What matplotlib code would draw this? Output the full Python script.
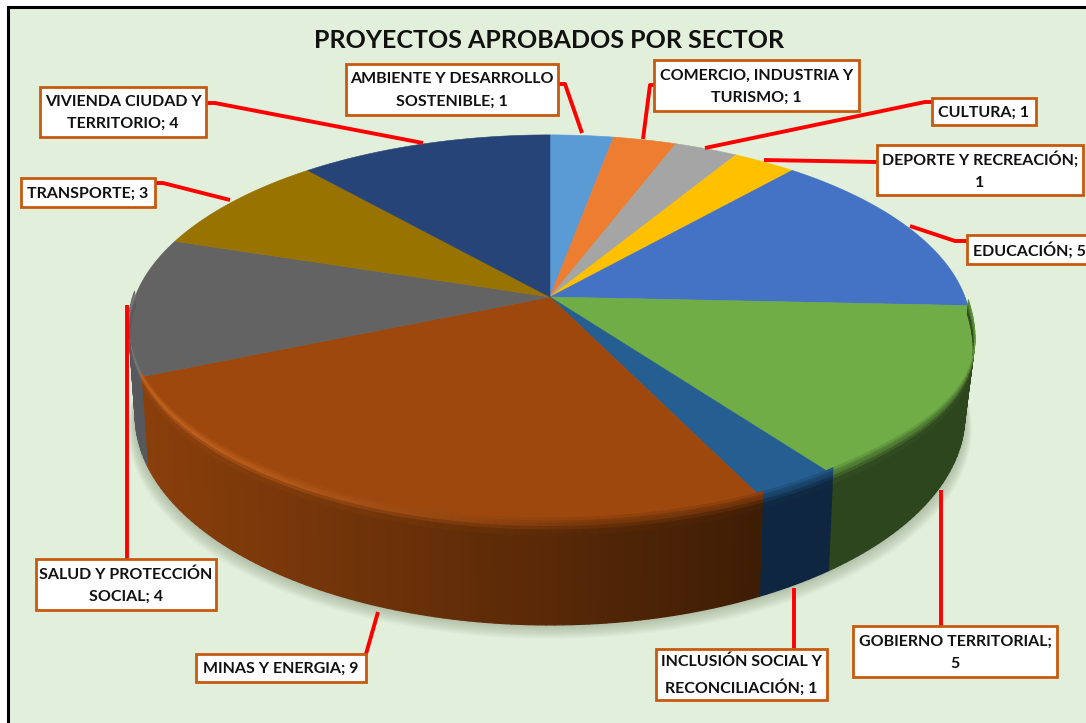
import numpy as np
import matplotlib
matplotlib.use("Agg")
import matplotlib.pyplot as plt
from matplotlib.collections import PolyCollection
from matplotlib.colors import to_rgb
from matplotlib.patches import Rectangle

title = "PROYECTOS APROBADOS POR SECTOR"
values = [1, 1, 1, 1, 5, 5, 1, 9, 4, 3, 4]
label_formats = [
    "AMBIENTE Y DESARROLLO\nSOSTENIBLE; {}",
    "COMERCIO, INDUSTRIA Y\nTURISMO; {}",
    "CULTURA; {}",
    "DEPORTE Y RECREACIÓN;\n{}",
    "EDUCACIÓN; {}",
    "GOBIERNO TERRITORIAL;\n{}",
    "INCLUSIÓN SOCIAL Y\nRECONCILIACIÓN; {}",
    "MINAS Y ENERGIA; {}",
    "SALUD Y PROTECCIÓN\nSOCIAL; {}",
    "TRANSPORTE; {}",
    "VIVIENDA CIUDAD Y\nTERRITORIO; {}",
]
top_colors = ["#5B9BD5", "#ED7D31", "#A5A5A5", "#FFC000", "#4472C4", "#70AD47",
              "#255E91", "#9E480E", "#636363", "#997300", "#264478"]
side_left = ["#2F5F8A", "#8A4A1C", "#606060", "#957000", "#27457A", "#2D461D",
             "#0E263F", "#8A3F0B", "#56585C", "#5C4500", "#16294A"]
side_right = ["#2F5F8A", "#8A4A1C", "#606060", "#957000", "#27457A", "#2D461D",
              "#0E263F", "#3E1D05", "#4E5055", "#5C4500", "#16294A"]
highlights = [None] * 7 + ["#C2621F", "#7A7A7A", None, None]

# layout: pixel boxes of the callouts and their leader lines
boxes = [(346, 64, 558, 115), (654, 60, 859, 111), (932, 98, 1036, 125),
         (877, 145, 1083, 195), (967, 235, 1092, 264), (853, 626, 1057, 677),
         (656, 649, 827, 700), (196, 654, 366, 682), (36, 559, 216, 610),
         (21, 178, 155, 207), (40, 87, 206, 137)]
leaders = [[(558, 84), (565, 84), (582, 133)], [(654, 85), (650, 85), (643, 139)],
           [(932, 102), (925, 102), (705, 148)], [(877, 162), (764, 160)],
           [(967, 241), (955, 241), (910, 226)], [(941, 626), (941, 490)],
           [(794, 649), (794, 588)], [(366, 654), (378, 612)],
           [(127, 559), (127, 305)], [(155, 183), (163, 183), (230, 200)],
           [(206, 103), (215, 103), (423, 143)]]

FONT = "Lato"
CX, CY, RX, RY, K, DEPTH, XS = 550.0, 297.0, 415.0, 189.5, 0.169, 83.0, 0.015
B0, B1, BULGE = np.radians(90), np.radians(144), 0.02


def project(theta, t=0.0):
    """Perspective pie: theta is clockwise from the top, t the depth fraction."""
    theta = np.asarray(theta, dtype=float)
    X, Y = np.sin(theta), np.cos(theta)
    w = 1 + K * Y
    inside = (theta > B0) & (theta < B1)
    r = 1 + BULGE * (1 - t) * inside * np.sin(np.pi * (theta - B0) / (B1 - B0)) ** 2
    return CX + r * RX * X / w * (1 - XS * t), CY - r * RY * Y / w + DEPTH * t / w


def mix(a, b, f):
    a, b = np.array(to_rgb(a)), np.array(to_rgb(b))
    return tuple(a + (b - a) * f)


fig = plt.figure(figsize=(10.86, 7.23), dpi=100, facecolor="white")
ax = fig.add_axes([0, 0, 1, 1])
ax.set_xlim(0, 1086)
ax.set_ylim(723, 0)
ax.axis("off")

ax.add_patch(Rectangle((7.5, 6.5), 1100, 730, fc="#E2EFDA", ec="black", lw=2.2, zorder=0))

edges = np.cumsum([0] + values) / sum(values) * 2 * np.pi

# soft shadow under the pie
full = np.linspace(0, 2 * np.pi, 361)
bx, by = project(full, 1.0)
for off in range(1, 15):
    ax.fill(CX + (bx - CX) * (1 + off * 0.0012), by + off, color="#5F6E55", alpha=0.028, lw=0, zorder=1)

# side wall and rim bevel, drawn sliced so they can shade from left to right
wall_polys, wall_cols, rim_polys, rim_cols = [], [], [], []
rows = [-0.07, -0.04, -0.015, 0.015, 0.05, 0.1]
for i in range(len(values)):
    a0, a1 = edges[i], edges[i + 1]
    lo, hi = max(a0, np.pi / 2), min(a1, 3 * np.pi / 2)
    if hi <= lo:
        continue
    th = np.linspace(lo, hi, max(2, int(np.degrees(hi - lo)) + 1))
    for j in range(len(th) - 1):
        xm = project(np.array([(th[j] + th[j + 1]) / 2]))[0][0]
        f = np.clip((xm - 140) / (760 - 140), 0, 1)
        sc = mix(side_left[i], side_right[i], f)
        soft = mix(top_colors[i], sc, 0.5)
        hl = mix(highlights[i], soft, min(1, f * 1.4)) if highlights[i] else soft
        row_cols = [mix(top_colors[i], hl, 0.35), mix(top_colors[i], hl, 0.8), hl,
                    mix(hl, sc, 0.5), mix(hl, sc, 0.9)]
        x0, y0 = project(th[j:j + 2], rows[-1])
        x1, y1 = project(th[j:j + 2], 1.0)
        wall_polys.append(np.column_stack([np.r_[x0, x1[::-1]], np.r_[y0, y1[::-1]]]))
        wall_cols.append(sc)
        if hi - lo < np.radians(5):
            continue
        for r in range(len(rows) - 1):
            x0, y0 = project(th[j:j + 2], rows[r])
            x1, y1 = project(th[j:j + 2], rows[r + 1])
            rim_polys.append(np.column_stack([np.r_[x0, x1[::-1]], np.r_[y0, y1[::-1]]]))
            rim_cols.append(row_cols[r])

ax.add_collection(PolyCollection(wall_polys, facecolors=wall_cols, edgecolors=wall_cols, linewidths=0.9, zorder=1.5))

# top face slices
for i in range(len(values)):
    th = np.linspace(edges[i], edges[i + 1], 120)
    x, y = project(th)
    ax.fill(np.r_[CX, x], np.r_[CY, y], color=top_colors[i], lw=0.4, zorder=2)

ax.add_collection(PolyCollection(rim_polys, facecolors=rim_cols, edgecolors=rim_cols, linewidths=0.7, zorder=3))

# callouts
for i, (fmt, v) in enumerate(zip(label_formats, values)):
    lx, ly = zip(*leaders[i])
    ax.plot(lx, ly, color="#FF0000", lw=2.8, solid_capstyle="butt", zorder=5)
    x0, y0, x1, y1 = boxes[i]
    ax.add_patch(Rectangle((x0, y0), x1 - x0, y1 - y0, fc="white", ec="#C55A11", lw=2.0, zorder=6))
    ax.text((x0 + x1) / 2, (y0 + y1) / 2 + 1, fmt.format(v), ha="center", va="center", family=FONT,
            fontweight="bold", fontsize=11.5, color="#111111", linespacing=1.75, zorder=7)

ax.text(549, 40, title, ha="center", va="center", family=FONT, fontweight="bold",
        fontsize=18, color="#111111", zorder=7)

fig.savefig("out.png", dpi=100, facecolor="white")
